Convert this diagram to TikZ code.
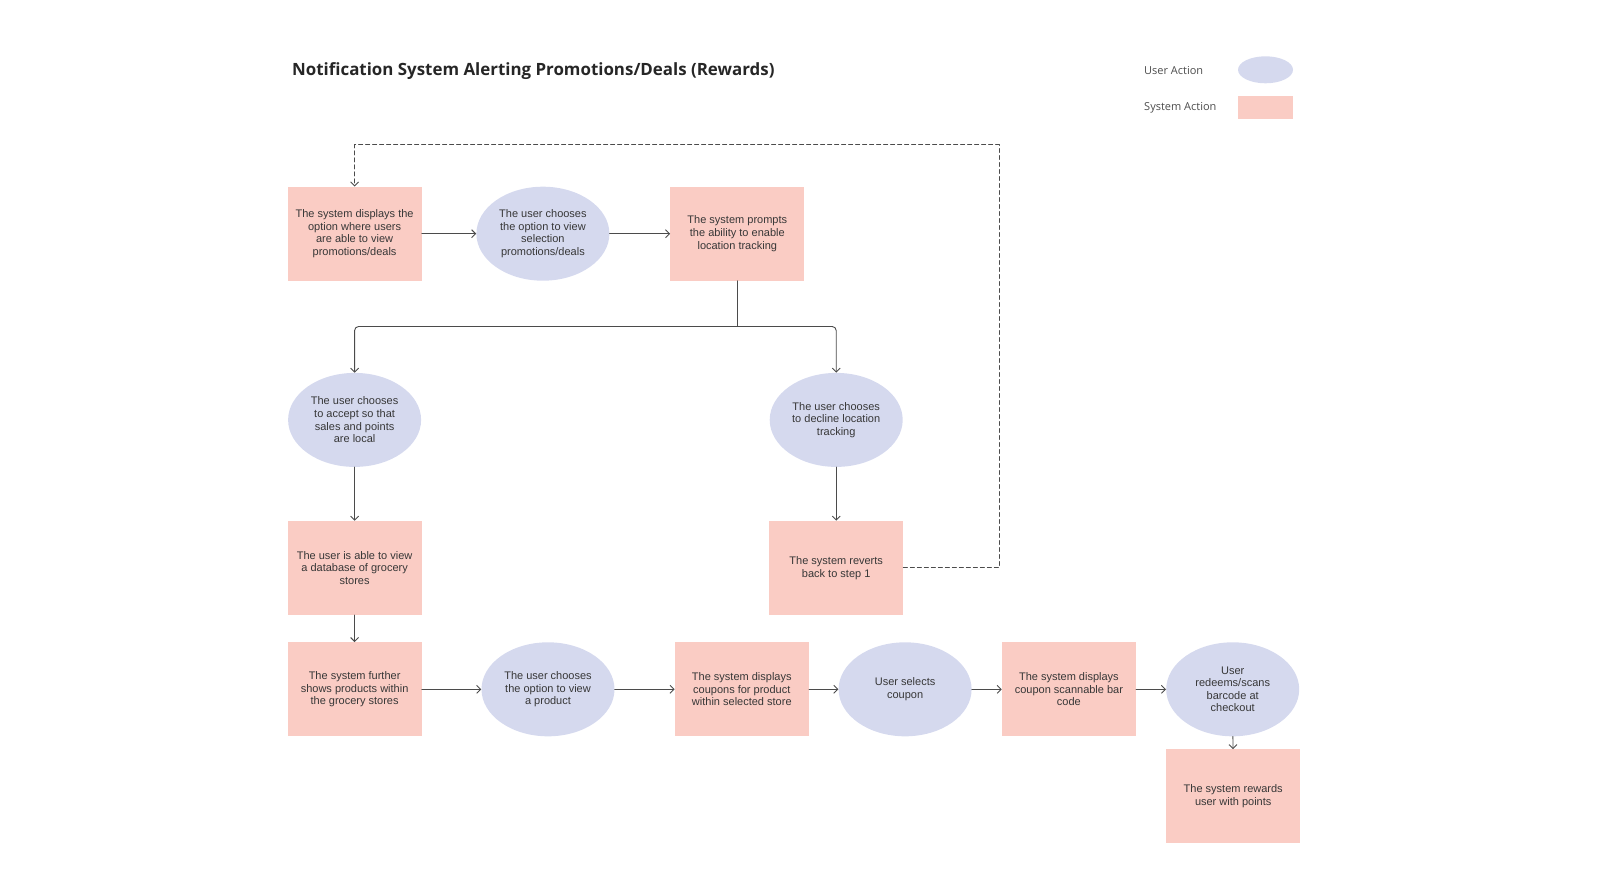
\documentclass[tikz,border=0pt]{standalone}
\usepackage{fontspec}
\setmainfont{Liberation Sans}
\newfontfamily\headfont{Open Sans}
\usetikzlibrary{arrows.meta, shapes.geometric}

\definecolor{sysfill}{RGB}{250,204,196}
\definecolor{userfill}{RGB}{213,217,238}
\definecolor{txtgray}{RGB}{55,55,55}
\definecolor{linegray}{RGB}{75,75,75}

\tikzset{
  sysbox/.style={rectangle, fill=sysfill, minimum width=134pt, minimum height=94pt,
    inner sep=0pt, align=center, text=txtgray, font=\fontsize{11}{12.6}\selectfont},
  userbox/.style={ellipse, fill=userfill, minimum width=133pt, minimum height=94pt,
    inner sep=0pt, align=center, text=txtgray, font=\fontsize{11}{12.6}\selectfont},
  flow/.style={->, draw=linegray, line width=0.9pt},
  loopback/.style={->, draw=linegray, line width=0.9pt, dash pattern=on 4pt off 3pt},
  legendtext/.style={anchor=west, inner sep=0pt, text=black!70, font=\headfont\fontsize{11}{13}\selectfont},
}

\begin{document}
\begin{tikzpicture}[line cap=round,line join=round,>={Straight Barb[length=4pt,width=8pt]},x=1pt,y=-1pt]
\useasboundingbox (0,0) rectangle (1600,886);

% title and legend
\node[anchor=west, inner sep=0pt, text=black!85, font=\headfont\bfseries\fontsize{16.9}{20}\selectfont] (title) at (292,71)
  {Notification System Alerting Promotions/Deals (Rewards)};
\node[legendtext] (userlbl) at (1144,70.5) {User Action};
\node[legendtext] (syslbl) at (1144,107.5) {System Action};
\node[ellipse, fill=userfill, minimum width=55pt, minimum height=27pt, inner sep=0pt] (userkey) at (1265.5,69.8) {};
\node[rectangle, fill=sysfill, minimum width=55pt, minimum height=23pt, inner sep=0pt] (syskey) at (1265.5,107) {};

% top row
\node[sysbox] (showopt) at (354.6,233.7) {The system displays the\\option where users\\are able to view\\promotions/deals};
\node[userbox] (viewsel) at (542.9,233.7) {The user chooses\\the option to view\\selection\\promotions/deals};
\node[sysbox] (prompt) at (737.3,233.7) {The system prompts\\the ability to enable\\location tracking};

% branches
\node[userbox] (accept) at (354.6,419.9) {The user chooses\\to accept so that\\sales and points\\are local};
\node[userbox] (decline) at (836.2,419.9) {The user chooses\\to decline location\\tracking};
\node[sysbox] (database) at (354.6,567.9) {The user is able to view\\a database of grocery\\stores};
\node[sysbox] (revert) at (836.2,567.9) {The system reverts\\back to step 1};

% bottom row
\node[sysbox] (products) at (354.6,689.3) {The system further\\shows products within\\the grocery stores};
\node[userbox] (viewprod) at (548.0,689.3) {The user chooses\\the option to view\\a product};
\node[sysbox] (coupons) at (741.8,689.3) {The system displays\\coupons for product\\within selected store};
\node[userbox] (select) at (905.1,689.3) {User selects\\coupon};
\node[sysbox] (barcode) at (1068.9,689.3) {The system displays\\coupon scannable bar\\code};
\node[userbox] (redeem) at (1232.7,689.3) {User\\redeems/scans\\barcode at\\checkout};
\node[sysbox] (reward) at (1233.2,796.4) {The system rewards\\user with points};

\coordinate (split) at (737.3,326.5);
\coordinate (backA) at (999,567.9);
\coordinate (backB) at (999,144.9);
\coordinate (backC) at (354.6,144.9);

\draw[flow] (showopt) -- (viewsel);
\draw[flow] (viewsel) -- (prompt);
\draw[draw=linegray, line width=0.9pt] (prompt.south) -- (split);
\draw[flow, rounded corners=4pt] (split) -| (accept.north);
\draw[flow, rounded corners=4pt] (split) -| (decline.north);
\draw[flow] (accept) -- (database);
\draw[flow] (decline) -- (revert);
\draw[flow] (database) -- (products);
\draw[flow] (products) -- (viewprod);
\draw[flow] (viewprod) -- (coupons);
\draw[flow] (coupons) -- (select);
\draw[flow] (select) -- (barcode);
\draw[flow] (barcode) -- (redeem);
\draw[flow] (redeem) -- (reward);
\draw[loopback] (revert.east) -- (backA) -- (backB) -- (backC) -- (showopt.north);
\end{tikzpicture}
\end{document}
